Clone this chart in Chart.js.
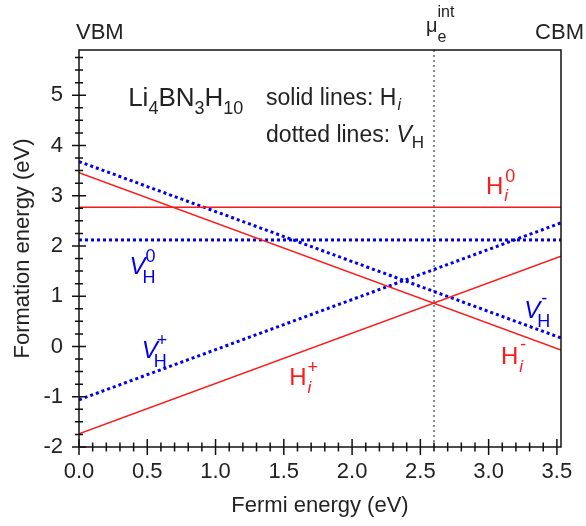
<!DOCTYPE html>
<html>
<head>
<meta charset="utf-8">
<script src="https://cdn.jsdelivr.net/npm/chart.js@4.4.1/dist/chart.umd.min.js"></script>
<style>
  html, body { margin: 0; padding: 0; background: #fff; }
  #wrap { width: 586px; height: 526px; }
</style>
</head>
<body>
<div id="wrap"><canvas id="formationEnergy" width="586" height="526"></canvas></div>
<script>
// Fermi level range (eV): VBM at 0, CBM at the right edge
const fermiEnds = [0, 3.53];
const muInt = 2.6;
const yRange = [-2, 5.9];

// formation energies (eV) at the two ends of the Fermi range
const hiNeutral = [2.77, 2.77];
const hiPlus = [-1.735, 1.795];
const hiMinus = [3.46, -0.07];
const vhNeutral = [2.12, 2.12];
const vhPlus = [-1.06, 2.46];
const vhMinus = [3.68, 0.17];

const xTicks = [0, 0.5, 1, 1.5, 2, 2.5, 3, 3.5];
const yTicks = [-2, -1, 0, 1, 2, 3, 4, 5];

const fam = '"Liberation Sans", Arial, Helvetica, sans-serif';
const RED = '#ff1a1a';
const BLUE = '#0000f0';

function pts(ys) {
  return fermiEnds.map((x, i) => ({x: x, y: ys[i]}));
}
function solid(data) {
  return {data: pts(data), borderColor: RED, borderWidth: 1.5, pointRadius: 0, fill: false};
}
function dotted(data) {
  return {data: pts(data), borderColor: BLUE, borderWidth: 3, borderDash: [3, 3], pointRadius: 0, fill: false};
}

function fnt(size, it) {
  return (it ? 'italic ' : '') + size + 'px ' + fam;
}

// draw text runs (sub/superscripts); stack:true puts a run under the previous one
function drawRuns(ctx, x, y, runs, color) {
  ctx.fillStyle = color;
  ctx.textAlign = 'left';
  ctx.textBaseline = 'alphabetic';
  let cx = x, lastStart = x;
  runs.forEach(r => {
    ctx.font = fnt(r.s, r.it);
    const start = r.stack ? lastStart : cx;
    const dx = r.dx || 0;
    ctx.fillText(r.t, start + dx, y + (r.dy || 0));
    const end = start + dx + ctx.measureText(r.t).width;
    if (r.stack) {
      cx = Math.max(cx, end);
    } else {
      lastStart = start;
      cx = end;
    }
  });
}

// labels in data coordinates
const labels = [
  {x: 0.36, y: 4.78, c: '#222', runs: [
    {t: 'Li', s: 26}, {t: '4', s: 18, dy: 8}, {t: 'BN', s: 26}, {t: '3', s: 18, dy: 8},
    {t: 'H', s: 26}, {t: '10', s: 18, dy: 8}]},
  {x: 1.37, y: 4.81, c: '#222', runs: [{t: 'solid lines: H', s: 23}, {t: 'i', s: 16, it: true, dy: 5, dx: 1}]},
  {x: 1.37, y: 4.06, c: '#222', runs: [{t: 'dotted lines: ', s: 23}, {t: 'V', s: 23, it: true}, {t: 'H', s: 17, dy: 6}]},
  {x: 2.98, y: 3.03, c: RED, runs: [{t: 'H', s: 24}, {t: '0', s: 18, dy: -12, dx: 2}, {t: 'i', s: 17, it: true, dy: 7, dx: 1, stack: true}]},
  {x: 0.37, y: 1.45, c: BLUE, runs: [{t: 'V', s: 24, it: true}, {t: '0', s: 18, dy: -12, dx: 0}, {t: 'H', s: 18, dy: 9, dx: -3, stack: true}]},
  {x: 0.46, y: -0.22, c: BLUE, runs: [{t: 'V', s: 24, it: true}, {t: '+', s: 18, dy: -12, dx: -1}, {t: 'H', s: 18, dy: 9, dx: -4, stack: true}]},
  {x: 1.54, y: -0.76, c: RED, runs: [{t: 'H', s: 24}, {t: '+', s: 18, dy: -12, dx: 1}, {t: 'i', s: 17, it: true, dy: 8, dx: 1, stack: true}]},
  {x: 3.26, y: 0.56, c: BLUE, runs: [{t: 'V', s: 24, it: true}, {t: '-', s: 18, dy: -14, dx: 1}, {t: 'H', s: 18, dy: 9, dx: -3, stack: true}]},
  {x: 3.09, y: -0.34, c: RED, runs: [{t: 'H', s: 24}, {t: '-', s: 18, dy: -14, dx: 2}, {t: 'i', s: 17, it: true, dy: 8, dx: 1, stack: true}]}
];

const framePlugin = {
  id: 'frame',
  afterDraw(chart) {
    const ctx = chart.ctx;
    const a = chart.chartArea;
    const xs = chart.scales.x, ys = chart.scales.y;
    ctx.save();
    ctx.strokeStyle = '#111';
    ctx.lineWidth = 1.5;
    ctx.strokeRect(a.left, a.top, a.right - a.left, a.bottom - a.top);

    // ticks crossing the axes
    ctx.beginPath();
    for (let k = 0; k * 0.1 <= fermiEnds[1] + 1e-9; k++) {
      const px = xs.getPixelForValue(k * 0.1);
      const len = k % 5 === 0 ? 8 : 4.5;
      ctx.moveTo(px, a.bottom - len);
      ctx.lineTo(px, a.bottom + len);
    }
    for (let k = 0; yRange[0] + k * 0.25 <= yRange[1] + 1e-9; k++) {
      const py = ys.getPixelForValue(yRange[0] + k * 0.25);
      const len = k % 4 === 0 ? 7 : 4;
      ctx.moveTo(a.left - len, py);
      ctx.lineTo(a.left + len, py);
    }
    ctx.stroke();

    // band-edge labels on top
    ctx.fillStyle = '#222';
    ctx.font = fnt(22);
    ctx.textBaseline = 'alphabetic';
    ctx.textAlign = 'left';
    ctx.fillText('VBM', xs.getPixelForValue(fermiEnds[0]) - 3, a.top - 11);
    ctx.textAlign = 'right';
    ctx.fillText('CBM', chart.width - 2, a.top - 11);
    const mx = xs.getPixelForValue(muInt);
    drawRuns(ctx, mx - 8, a.top - 18, [
      {t: '\u03bc', s: 20}, {t: 'e', s: 16, dy: 10}, {t: 'int', s: 16, dy: -15, stack: true}], '#222');

    labels.forEach(l => {
      drawRuns(ctx, xs.getPixelForValue(l.x), ys.getPixelForValue(l.y), l.runs, l.c);
    });
    ctx.restore();
  }
};

new Chart(document.getElementById('formationEnergy'), {
  type: 'line',
  data: {
    datasets: [
      solid(hiNeutral), solid(hiPlus), solid(hiMinus),
      dotted(vhNeutral), dotted(vhPlus), dotted(vhMinus),
      {
        data: [{x: muInt, y: yRange[0]}, {x: muInt, y: yRange[1]}],
        borderColor: '#666', borderWidth: 1.5, borderDash: [2, 3], pointRadius: 0, fill: false
      }
    ]
  },
  plugins: [framePlugin],
  options: {
    responsive: false,
    animation: false,
    layout: {padding: {top: 50, right: 25, left: 0, bottom: 0}},
    plugins: {legend: {display: false}, tooltip: {enabled: false}},
    scales: {
      x: {
        type: 'linear',
        min: fermiEnds[0],
        max: fermiEnds[1],
        afterBuildTicks: s => { s.ticks = xTicks.map(v => ({value: v})); },
        afterFit: s => { s.height = 79; },
        grid: {display: false, drawTicks: false},
        border: {display: false},
        ticks: {
          padding: 12,
          color: '#222',
          font: {family: fam, size: 22},
          maxRotation: 0,
          callback: v => Number(v).toFixed(1)
        },
        title: {display: true, text: 'Fermi energy (eV)', color: '#222',
          font: {family: fam, size: 22}, padding: {top: 0, bottom: 7}}
      },
      y: {
        type: 'linear',
        min: yRange[0],
        max: yRange[1],
        afterBuildTicks: s => { s.ticks = yTicks.map(v => ({value: v})); },
        afterFit: s => { s.width = 79; },
        grid: {display: false, drawTicks: false},
        border: {display: false},
        ticks: {
          padding: 16,
          color: '#222',
          font: {family: fam, size: 22},
          callback: v => String(v)
        },
        title: {display: true, text: 'Formation energy (eV)', color: '#222',
          font: {family: fam, size: 22}, padding: {top: 10, bottom: 0}}
      }
    }
  }
});
</script>
</body>
</html>
